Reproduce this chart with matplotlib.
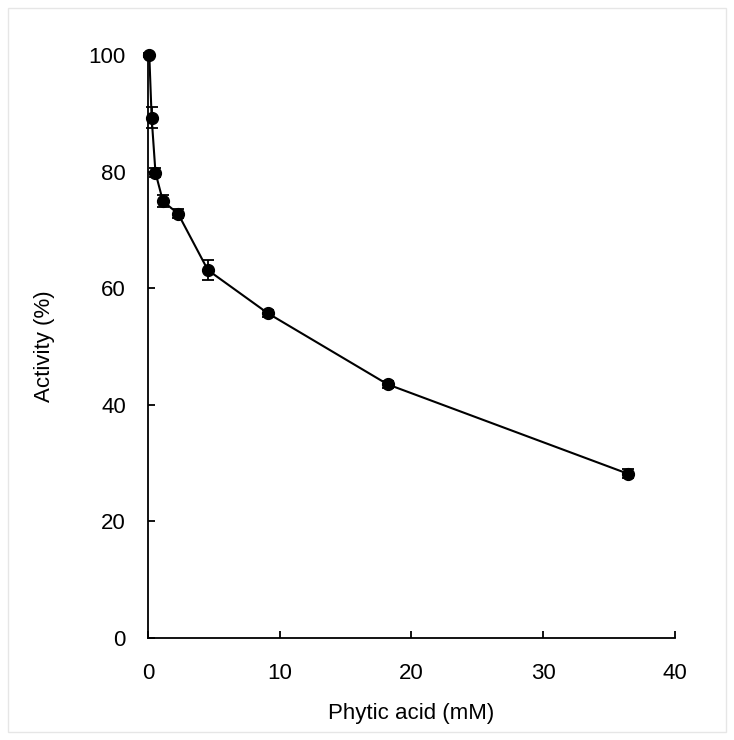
import matplotlib
matplotlib.use("Agg")
import matplotlib.pyplot as plt
from matplotlib.patches import Rectangle

plt.rcParams['font.family'] = ['Liberation Sans', 'DejaVu Sans']

conc = [0.1, 0.28, 0.57, 1.14, 2.28, 4.55, 9.1, 18.2, 36.4]  # phytic acid (mM)
activity = [100, 89.2, 79.8, 74.9, 72.8, 63.1, 55.7, 43.5, 28.2]  # activity (%)
err = [0.4, 1.8, 0.8, 1.0, 0.8, 1.7, 0.6, 0.6, 0.8]

fig = plt.figure(figsize=(7.34, 7.40), dpi=100)
ax = fig.add_axes([0.2016, 0.1378, 0.718, 0.7879])

lines = ax.errorbar(conc, activity, yerr=err, color='black', marker='o', markersize=8.5,
                    linewidth=1.5, elinewidth=1.3, capsize=4, capthick=1.3)
for artist in lines.get_children():
    artist.set_clip_on(False)

ax.set_xlim(0, 40)
ax.set_ylim(0, 100)
ax.set_xticks([0, 10, 20, 30, 40])
ax.set_yticks([0, 20, 40, 60, 80, 100])
ax.spines['top'].set_visible(False)
ax.spines['right'].set_visible(False)
ax.spines['left'].set_linewidth(1.3)
ax.spines['bottom'].set_linewidth(1.3)
ax.tick_params(direction='in', length=5, width=1.3, labelsize=16)
ax.tick_params(axis='x', pad=18)
ax.tick_params(axis='y', pad=16)
ax.set_xlabel('Phytic acid (mM)', fontsize=16, labelpad=14)
ax.set_ylabel('Activity (%)', fontsize=16, labelpad=24)

fig.patches.append(Rectangle((0.011, 0.011), 0.978, 0.978, transform=fig.transFigure,
                             fill=False, edgecolor='#e6e6e6', linewidth=1))

fig.savefig('out.png', dpi=100)
